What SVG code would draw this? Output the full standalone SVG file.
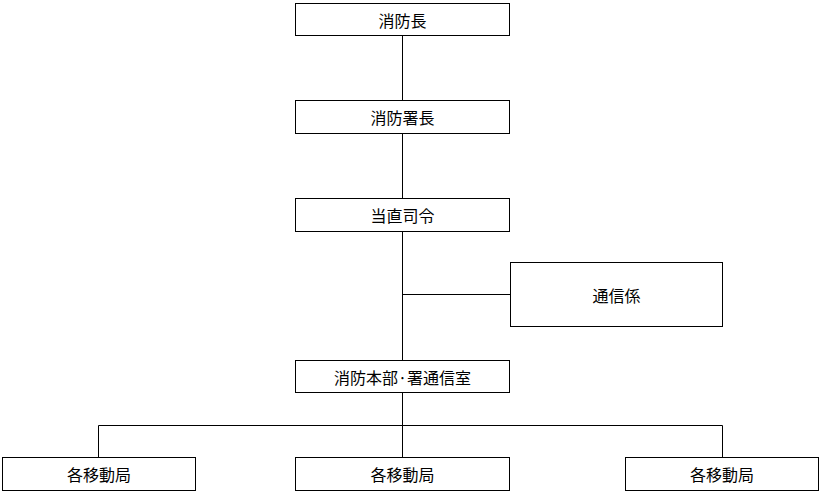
<svg xmlns="http://www.w3.org/2000/svg" width="821" height="493" viewBox="0 0 821 493">
<style>
rect{fill:#fff;stroke:#000;stroke-width:1}
text{font-family:"Noto Sans CJK JP",sans-serif;font-size:16px;text-anchor:middle;dominant-baseline:central;fill:#000}
.c line{stroke:#000;stroke-width:1}
</style>
<rect x="0" y="0" width="821" height="493" style="stroke:none"/>
<g class="c" id="connectors">
<line x1="402.5" y1="35" x2="402.5" y2="100"/>
<line x1="402.5" y1="133" x2="402.5" y2="198"/>
<line x1="402.5" y1="231" x2="402.5" y2="360"/>
<line x1="402.5" y1="294.5" x2="510" y2="294.5"/>
<line x1="402.5" y1="392" x2="402.5" y2="457"/>
<line x1="98.5" y1="425.5" x2="722.5" y2="425.5"/>
<line x1="98.5" y1="425.5" x2="98.5" y2="457"/>
<line x1="722.5" y1="425.5" x2="722.5" y2="457"/>
</g>
<g id="n1"><rect x="295.5" y="3.5" width="214" height="32"/><text x="402.5" y="19.5">消防長</text></g>
<g id="n2"><rect x="295.5" y="100.5" width="214" height="33"/><text x="402.5" y="117">消防署長</text></g>
<g id="n3"><rect x="295.5" y="198.5" width="214" height="33"/><text x="402.5" y="215">当直司令</text></g>
<g id="n4"><rect x="510.5" y="262.5" width="212" height="64"/><text x="616.5" y="294.5">通信係</text></g>
<g id="n5"><rect x="295.5" y="360.5" width="214" height="32"/><text x="402.5" y="376.5">消防本部·署通信室</text></g>
<g id="n6"><rect x="2.5" y="457.5" width="193" height="33"/><text x="99" y="474">各移動局</text></g>
<g id="n7"><rect x="295.5" y="457.5" width="214" height="33"/><text x="402.5" y="474">各移動局</text></g>
<g id="n8"><rect x="625.5" y="457.5" width="193" height="33"/><text x="722" y="474">各移動局</text></g>
</svg>
